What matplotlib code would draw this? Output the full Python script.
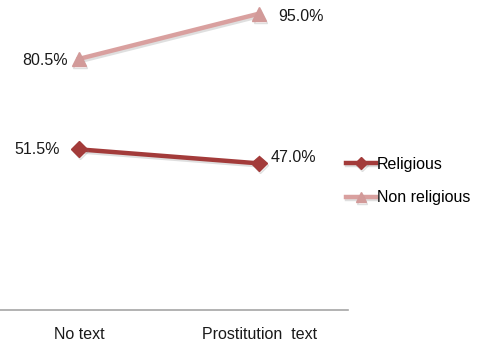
import matplotlib
matplotlib.use("Agg")
import matplotlib.pyplot as plt
import matplotlib.patheffects as pe

categories = ["No text", "Prostitution  text"]
religious = [51.5, 47.0]
non_religious = [80.5, 95.0]

plt.rcParams['font.family'] = ['Liberation Sans', 'DejaVu Sans']

fig = plt.figure(figsize=(4.8, 3.47), dpi=100)
ax = fig.add_axes([0.0, 0.1066, 0.725, 0.899])

x = list(range(len(categories)))
shadow = [pe.SimpleLineShadow(offset=(1, -1.5), shadow_color='gray', alpha=0.25), pe.Normal()]
l1, = ax.plot(x, religious, color='#A33B3A', lw=3.2, marker='D', ms=8,
              markerfacecolor='#A33B3A', markeredgecolor='#A33B3A', label='Religious',
              path_effects=shadow)
l2, = ax.plot(x, non_religious, color='#D9A09F', lw=3.2, marker='^', ms=10,
              markerfacecolor='#D29A99', markeredgecolor='#D29A99', label='Non religious',
              path_effects=shadow)

fs = 11.5
tc = '#1a1a1a'
ax.annotate("51.5%", (0, religious[0]), xytext=(-14, 0), textcoords='offset points',
            ha='right', va='center', fontsize=fs, color=tc)
ax.annotate("47.0%", (1, religious[1]), xytext=(8, 4), textcoords='offset points',
            ha='left', va='center', fontsize=fs, color=tc)
ax.annotate("80.5%", (0, non_religious[0]), xytext=(-8, -1), textcoords='offset points',
            ha='right', va='center', fontsize=fs, color=tc)
ax.annotate("95.0%", (1, non_religious[1]), xytext=(14, -2), textcoords='offset points',
            ha='left', va='center', fontsize=fs, color=tc)

ax.set_xlim(-0.439, 1.494)
ax.set_ylim(0, 100)
ax.set_xticks(x)
ax.set_xticklabels(categories, fontsize=fs, color=tc)
ax.tick_params(axis='x', length=0, pad=12)
ax.set_yticks([])
for s in ['top', 'right', 'left']:
    ax.spines[s].set_visible(False)
ax.spines['bottom'].set_color('#A6A6A6')
ax.spines['bottom'].set_linewidth(1.2)

leg = fig.legend(handles=[l1, l2], loc='center left', bbox_to_anchor=(0.690, 0.478),
                 frameon=False, fontsize=fs, handlelength=1.9, handletextpad=0.05,
                 labelspacing=1.15, markerscale=0.75)

fig.savefig("out.png", dpi=100)
